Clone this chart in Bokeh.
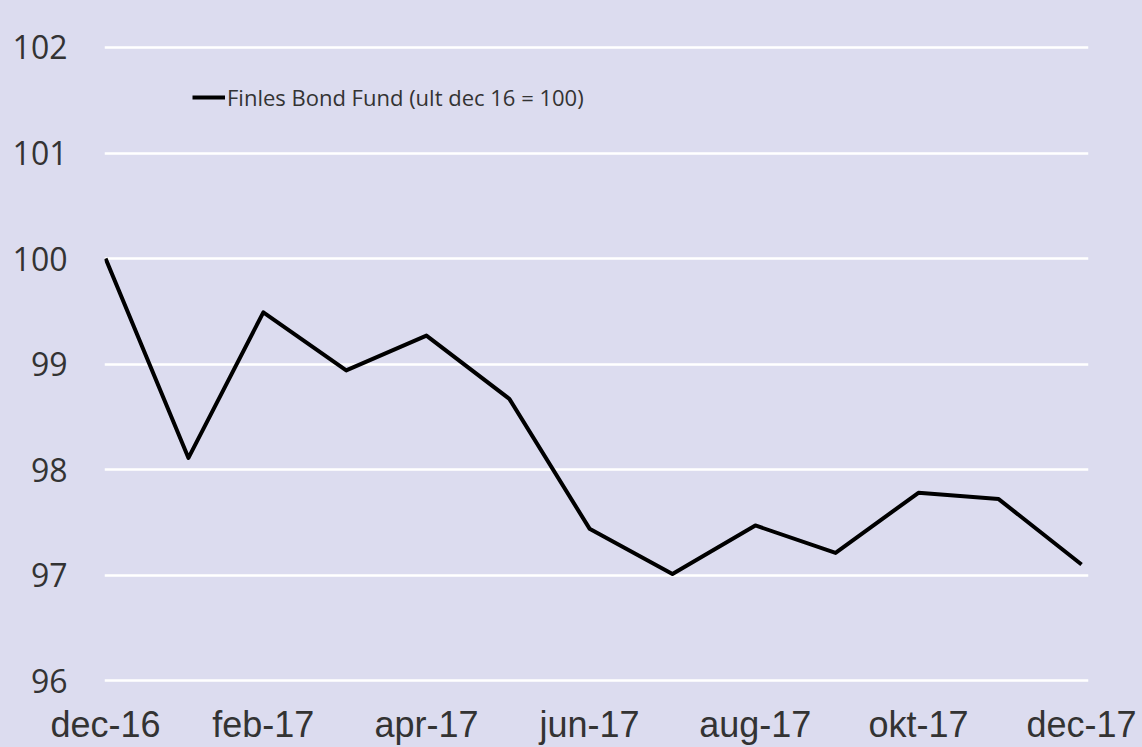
import pandas as pd
from bokeh.plotting import figure
from bokeh.models import Range1d, FixedTicker, Legend, LegendItem
from bokeh.embed import file_html
from bokeh.resources import INLINE

# ---- data ----
dates = ["2016-12-31", "2017-01-31", "2017-02-28", "2017-03-31", "2017-04-30",
         "2017-05-31", "2017-06-30", "2017-07-31", "2017-08-31", "2017-09-30",
         "2017-10-31", "2017-11-30", "2017-12-31"]
values = [100.0, 98.11, 99.49, 98.94, 99.27, 98.67, 97.44, 97.01, 97.47,
          97.21, 97.78, 97.72, 97.10]
tick_labels = ["dec-16", "feb-17", "apr-17", "jun-17", "aug-17", "okt-17", "dec-17"]
y_ticks = [96, 97, 98, 99, 100, 101, 102]
series_name = "Finles Bond Fund (ult dec 16 = 100)"

d = pd.to_datetime(dates)
x = [(t - d[0]).days for t in d]
tick_pos = x[::2]

BG = "#dcdcef"
FONT = "Open Sans"
XFONT = "Liberation Sans"
TXT = "#333333"

p = figure(width=1142, height=747, output_backend="svg", toolbar_location=None,
           x_range=Range1d(-0.4, 367.6), y_range=Range1d(95.489, 102.0662),
           min_border_left=104, min_border_right=54, min_border_top=40,
           min_border_bottom=12)
p.background_fill_color = BG
p.border_fill_color = BG
p.outline_line_color = None

r = p.line(x, values, line_color="black", line_width=4, line_join="round")

p.xgrid.grid_line_color = None
p.ygrid.grid_line_color = "white"
p.ygrid.grid_line_width = 2.5

p.yaxis.ticker = FixedTicker(ticks=y_ticks)
p.xaxis.ticker = FixedTicker(ticks=tick_pos)
p.xaxis.major_label_overrides = {int(t): lab for t, lab in zip(tick_pos, tick_labels)}

for ax in (p.xaxis[0], p.yaxis[0]):
    ax.axis_line_color = None
    ax.major_tick_line_color = None
    ax.minor_tick_line_color = None
    ax.major_tick_out = 0
    ax.major_tick_in = 0
    ax.major_label_text_color = TXT

p.yaxis.major_label_text_font = FONT
p.yaxis.major_label_text_font_size = "32px"
p.yaxis.major_label_standoff = 37
p.xaxis.major_label_text_font = XFONT
p.xaxis.major_label_text_font_size = "36px"
p.xaxis.major_label_standoff = -31

legend = Legend(items=[LegendItem(label=series_name, renderers=[r])],
                location=(88, 622), orientation="vertical",
                background_fill_alpha=0, border_line_alpha=0,
                padding=0, margin=0, spacing=0,
                glyph_width=33, glyph_height=20, label_standoff=2,
                label_text_font=FONT, label_text_font_size="22px",
                label_text_color=TXT)
p.add_layout(legend)

html = file_html(p, INLINE)
html = html.replace("<head>", "<head><style>html,body{background:%s;}</style>" % BG, 1)
open("out.html", "w").write(html)
